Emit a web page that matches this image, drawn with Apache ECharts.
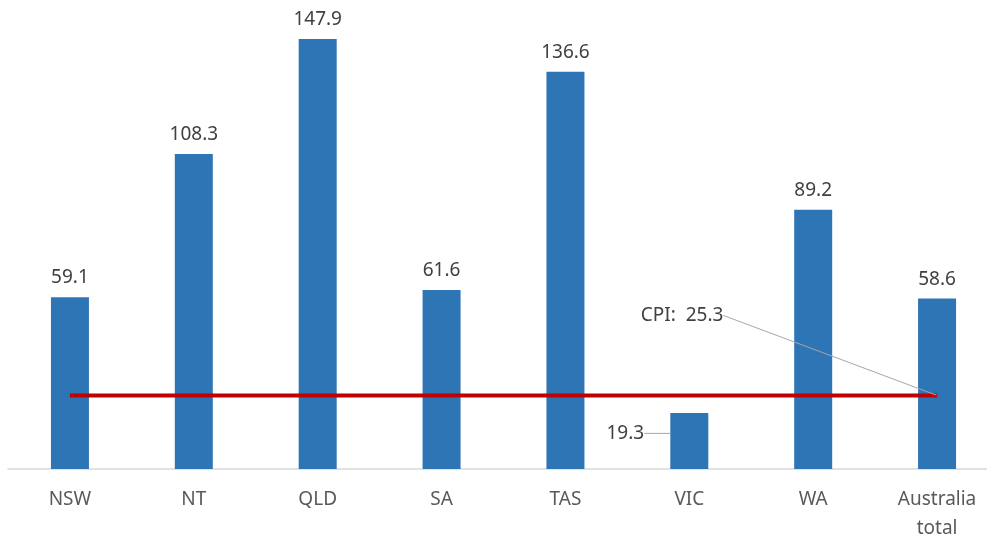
<!DOCTYPE html>
<html>
<head>
<meta charset="utf-8">
<script src="https://cdn.jsdelivr.net/npm/echarts@6/dist/echarts.min.js"></script>
<style>
html, body { margin: 0; padding: 0; background: #fff; }
#main { width: 987px; height: 539px; }
</style>
</head>
<body>
<div id="main"></div>
<script>
// data
var categories = ['NSW', 'NT', 'QLD', 'SA', 'TAS', 'VIC', 'WA', 'Australia\ntotal'];
var values = [59.1, 108.3, 147.9, 61.6, 136.6, 19.3, 89.2, 58.6];
var cpi = 25.3;

var cpiLine = categories.map(function () { return cpi; });

var barData = values.map(function (v, i) {
  if (i === 5) {
    // VIC label pulled out to the left with a leader line
    return { value: v, labelLine: { show: true } };
  }
  return v;
});

var chart = echarts.init(document.getElementById('main'));
var option = {
  animation: false,
  textStyle: { fontFamily: 'Noto Sans' },
  grid: { left: 8, top: 0, width: 991, height: 469, outerBoundsMode: 'none' },
  xAxis: {
    type: 'category',
    data: categories,
    axisLine: { lineStyle: { color: '#D9D9D9', width: 1.5 } },
    axisTick: { show: false },
    axisLabel: { color: '#595959', fontSize: 19, margin: 16, lineHeight: 29 }
  },
  yAxis: {
    type: 'value',
    min: 0,
    max: 161.3,
    show: false,
    splitLine: { show: false }
  },
  series: [{
    type: 'bar',
    data: barData,
    barWidth: 38,
    itemStyle: { color: '#2E75B6' },
    label: {
      show: true,
      position: 'top',
      distance: 10,
      color: '#404040',
      fontSize: 19
    },
    labelLine: { show: false, lineStyle: { color: '#A6A6A6', width: 1 } },
    labelLayout: function (params) {
      if (params.dataIndex === 5) {
        return { dx: -64, dy: 40 };
      }
    },
    z: 1
  }, {
    type: 'line',
    data: cpiLine,
    symbol: 'none',
    lineStyle: { color: '#C00000', width: 4 },
    z: 3
  }, {
    type: 'scatter',
    data: [[categories.length - 1, cpi]],
    symbolSize: 1,
    itemStyle: { color: '#C00000', opacity: 1 },
    label: {
      show: true,
      position: 'top',
      color: '#404040',
      fontSize: 19,
      formatter: function (p) { return 'CPI:  ' + p.value[1]; }
    },
    labelLine: { show: true, lineStyle: { color: '#A6A6A6', width: 1 } },
    labelLayout: { dx: -255, dy: -65 },
    z: 4
  }]
};
chart.setOption(option);
</script>
</body>
</html>
